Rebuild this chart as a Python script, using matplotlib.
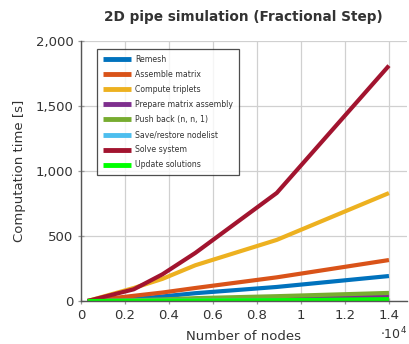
import matplotlib.pyplot as plt
from matplotlib.ticker import FuncFormatter

# node counts in units of 1e4
nodes = [0.03, 0.24, 0.37, 0.52, 0.89, 1.4]

remesh = [0, 15, 35, 60, 108, 192]
assemble_matrix = [0, 40, 65, 100, 182, 315]
compute_triplets = [0, 100, 170, 275, 470, 830]
prepare_assembly = [0, 3, 6, 12, 20, 36]
push_back = [0, 6, 12, 22, 37, 62]
save_restore = [0, 1, 2, 3, 5, 8]
solve_system = [0, 90, 205, 370, 831, 1810]
update_solutions = [0, 1, 2, 3, 6, 14]

series = [
    ("Remesh", remesh, "#0072BD"),
    ("Assemble matrix", assemble_matrix, "#D95319"),
    ("Compute triplets", compute_triplets, "#EDB120"),
    ("Prepare matrix assembly", prepare_assembly, "#7E2F8E"),
    ("Push back (n, n, 1)", push_back, "#77AC30"),
    ("Save/restore nodelist", save_restore, "#4DBEEE"),
    ("Solve system", solve_system, "#A2142F"),
    ("Update solutions", update_solutions, "#00FF00"),
]

text_col = "#333333"
plt.rcParams['font.family'] = ['DejaVu Sans']

fig = plt.figure(figsize=(4.09, 3.44), dpi=100)
ax = fig.add_axes([0.198, 0.125, 0.796, 0.756])

for name, vals, col in series:
    ax.plot(nodes, vals, color=col, lw=3.0, label=name, solid_capstyle='butt')

ax.set_xlim(0, 1.48)
ax.set_ylim(0, 2000)
ax.set_xticks([0, 0.2, 0.4, 0.6, 0.8, 1.0, 1.2, 1.4])
ax.set_xticklabels(["0", "0.2", "0.4", "0.6", "0.8", "1", "1.2", "1.4"])
ax.set_yticks([0, 500, 1000, 1500, 2000])
ax.yaxis.set_major_formatter(FuncFormatter(lambda v, p: f"{int(v):,}"))

ax.grid(True, color="#d0d0d0", lw=0.9)
ax.set_axisbelow(True)
for s in ("top", "right"):
    ax.spines[s].set_visible(False)
for s in ("left", "bottom"):
    ax.spines[s].set_color("#555555")
    ax.spines[s].set_linewidth(1.0)
ax.tick_params(axis='both', direction='inout', length=5, width=0.9,
               color="#999999", labelcolor=text_col, labelsize=9.5, pad=3)

ax.set_xlabel("Number of nodes", fontsize=9.5, color=text_col, labelpad=6)
ax.set_ylabel("Computation time [s]", fontsize=9.5, color=text_col, labelpad=7)
ax.set_title("2D pipe simulation (Fractional Step)", fontsize=9.8,
             fontweight='bold', color=text_col, pad=14)
fig.text(0.93, 0.005, r"$\cdot 10^4$", fontsize=9, color=text_col, va='bottom')

leg = ax.legend(loc='upper left', bbox_to_anchor=(0.049, 0.969), fontsize=5.6,
                frameon=True, fancybox=False, handlelength=3.6, handleheight=0.6,
                labelspacing=0.78, borderpad=0.75, borderaxespad=0,
                handletextpad=0.6, labelcolor=text_col)
leg.get_frame().set_edgecolor("#222222")
leg.get_frame().set_linewidth(0.9)
for line in leg.get_lines():
    line.set_linewidth(3.5)

fig.savefig("out.png", dpi=100)
